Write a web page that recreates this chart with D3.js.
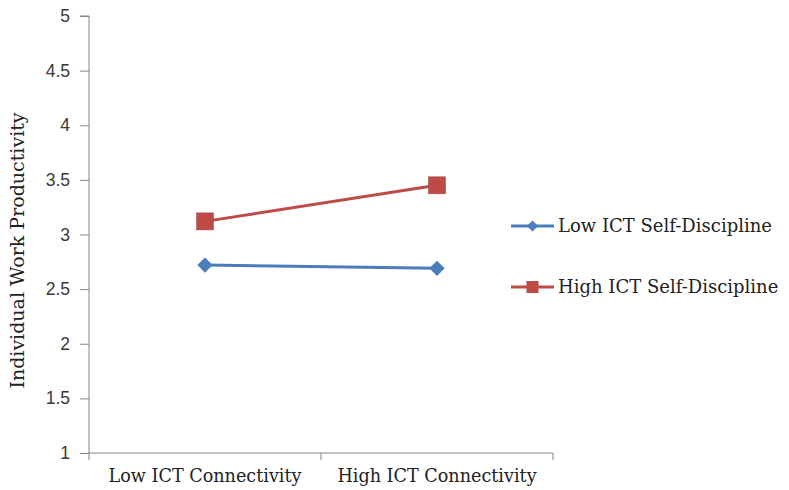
<!DOCTYPE html>
<html><head><meta charset="utf-8">
<script src="https://cdn.jsdelivr.net/npm/d3@7"></script>
<style>body{margin:0;background:#fff}</style>
</head><body>
<script>
const categories = ["Low ICT Connectivity", "High ICT Connectivity"];
const seriesNames = ["Low ICT Self-Discipline", "High ICT Self-Discipline"];
const lowSD = [2.72, 2.69];
const highSD = [3.12, 3.45];
const yTicks = [1, 1.5, 2, 2.5, 3, 3.5, 4, 4.5, 5];
const colors = ["#4A7EBB", "#BE4B48"];

const W = 789, H = 490;
const serif = "DejaVu Serif, Liberation Serif, serif";
const svg = d3.select("body").append("svg").attr("width", W).attr("height", H);
const x = d3.scaleBand().domain(categories).range([89, 553]);
const y = d3.scaleLinear().domain([1, 5]).range([453, 16]);

const yAxis = svg.append("g").attr("transform", "translate(89,0)")
  .call(d3.axisLeft(y).tickValues(yTicks).tickSize(9).tickPadding(10).tickFormat(d => d3.format("")(d)));
yAxis.selectAll("line,path").attr("stroke", "#868686");
yAxis.select(".domain").attr("d", `M-9,${y(5)}H0V${y(1)}`);
yAxis.selectAll("text").attr("font-family", "Liberation Sans, Arial, sans-serif").attr("font-size", 17.5).attr("fill", "#3a3a3a");

const xAxis = svg.append("g").attr("transform", `translate(0,${y(1)})`)
  .call(d3.axisBottom(x).tickSize(0).tickPadding(17));
xAxis.select(".domain").attr("stroke", "#868686").attr("d", `M89,0H553`);
xAxis.selectAll("text").attr("font-family", serif).attr("font-size", 17.6).attr("fill", "#222");
// category boundary ticks
const bounds = [x.range()[0], x(categories[1]), x.range()[1]];
svg.append("g").selectAll("line").data(bounds).join("line")
  .attr("x1", d => d).attr("x2", d => d).attr("y1", y(1)).attr("y2", y(1) + 7)
  .attr("stroke", "#868686");

svg.append("text").attr("transform", `translate(24,${(y(1)+y(5))/2 + 16}) rotate(-90)`)
  .attr("text-anchor", "middle").attr("font-family", serif)
  .attr("font-size", 19).attr("fill", "#222").text("Individual Work Productivity");

const cx = d => x(d) + x.bandwidth() / 2;
const data = [lowSD, highSD];
const line = d3.line().x((v, i) => cx(categories[i])).y(v => y(v));
data.forEach((vals, s) => {
  svg.append("path").attr("d", line(vals)).attr("fill", "none").attr("stroke", colors[s]).attr("stroke-width", 3);
  const g = svg.append("g");
  vals.forEach((v, i) => {
    if (s === 0) {
      g.append("path").attr("d", d3.symbol(d3.symbolDiamond2, 150)())
        .attr("transform", `translate(${cx(categories[i])},${y(v)})`).attr("fill", colors[s]);
    } else {
      g.append("rect").attr("x", cx(categories[i]) - 8.5).attr("y", y(v) - 8.5).attr("width", 17).attr("height", 17)
        .attr("fill", colors[s]).attr("stroke", "#a03c3a").attr("stroke-width", 0.5);
    }
  });
});

// legend
const legY = [226, 287];
seriesNames.forEach((name, s) => {
  const g = svg.append("g").attr("transform", `translate(511,${legY[s]})`);
  g.append("line").attr("x1", 0).attr("x2", 43).attr("stroke", colors[s]).attr("stroke-width", 3);
  if (s === 0) g.append("path").attr("d", d3.symbol(d3.symbolDiamond2, 80)()).attr("transform", "translate(21.5,0)").attr("fill", colors[s]);
  else g.append("rect").attr("x", 15.5).attr("y", -6).attr("width", 12).attr("height", 12).attr("fill", colors[s]);
  g.append("text").attr("x", 47).attr("y", 6).attr("font-family", serif)
    .attr("font-size", 18).attr("fill", "#222").text(name);
});
</script>
</body></html>
